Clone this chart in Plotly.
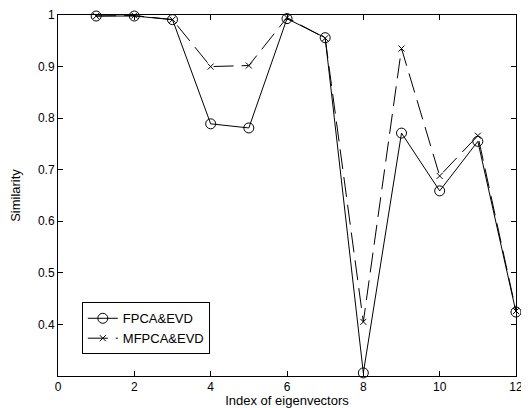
import plotly.graph_objects as go

index = [1, 2, 3, 4, 5, 6, 7, 8, 9, 10, 11, 12]
fpca_evd = [0.998, 0.998, 0.991, 0.789, 0.781, 0.993, 0.956, 0.306, 0.771, 0.659, 0.755, 0.424]
mfpca_evd = [0.998, 0.999, 0.991, 0.900, 0.902, 0.995, 0.955, 0.405, 0.935, 0.688, 0.766, 0.426]
x_ticks = [0, 2, 4, 6, 8, 10, 12]
y_ticks = [0.4, 0.5, 0.6, 0.7, 0.8, 0.9, 1.0]
y_labels = ["0.4", "0.5", "0.6", "0.7", "0.8", "0.9", "1"]

FONT = "Liberation Sans, Arial"

fig = go.Figure()
fig.add_trace(go.Scatter(
    x=index, y=fpca_evd, name="FPCA&EVD", mode="lines+markers", cliponaxis=False,
    line=dict(color="black", width=1),
    marker=dict(symbol="circle-open", size=10, color="black", line=dict(width=1)),
))
fig.add_trace(go.Scatter(
    x=index, y=mfpca_evd, name="MFPCA&EVD", mode="lines+markers", cliponaxis=False,
    line=dict(color="black", width=1, dash="20px,8px"),
    marker=dict(symbol="x-thin-open", size=6, color="black", line=dict(width=1, color="black")),
))

axis_common = dict(
    showgrid=False, zeroline=False, showline=True, linecolor="black", linewidth=1,
    mirror="ticks", ticks="inside", ticklen=5, tickcolor="black", automargin=False,
    tickfont=dict(family=FONT, size=12, color="black"),
)
fig.update_xaxes(range=[0, 12], tickvals=x_ticks,
                 title=dict(text="Index of eigenvectors", font=dict(family=FONT, size=13, color="black"), standoff=2),
                 **axis_common)
fig.update_yaxes(range=[0.3, 1.0], tickvals=y_ticks, ticktext=y_labels,
                 title=dict(text="Similarity", font=dict(family=FONT, size=13, color="black"), standoff=21),
                 **axis_common)

fig.update_layout(
    width=521, height=400,
    margin=dict(l=50, r=13, t=7, b=32),
    paper_bgcolor="white", plot_bgcolor="white",
    font=dict(family=FONT, size=12, color="black"),
    legend=dict(x=0.052, y=0.06, xanchor="left", yanchor="bottom",
                bgcolor="white", bordercolor="black", borderwidth=1,
                font=dict(size=13), tracegroupgap=0),
)

fig.write_html("out.html")
